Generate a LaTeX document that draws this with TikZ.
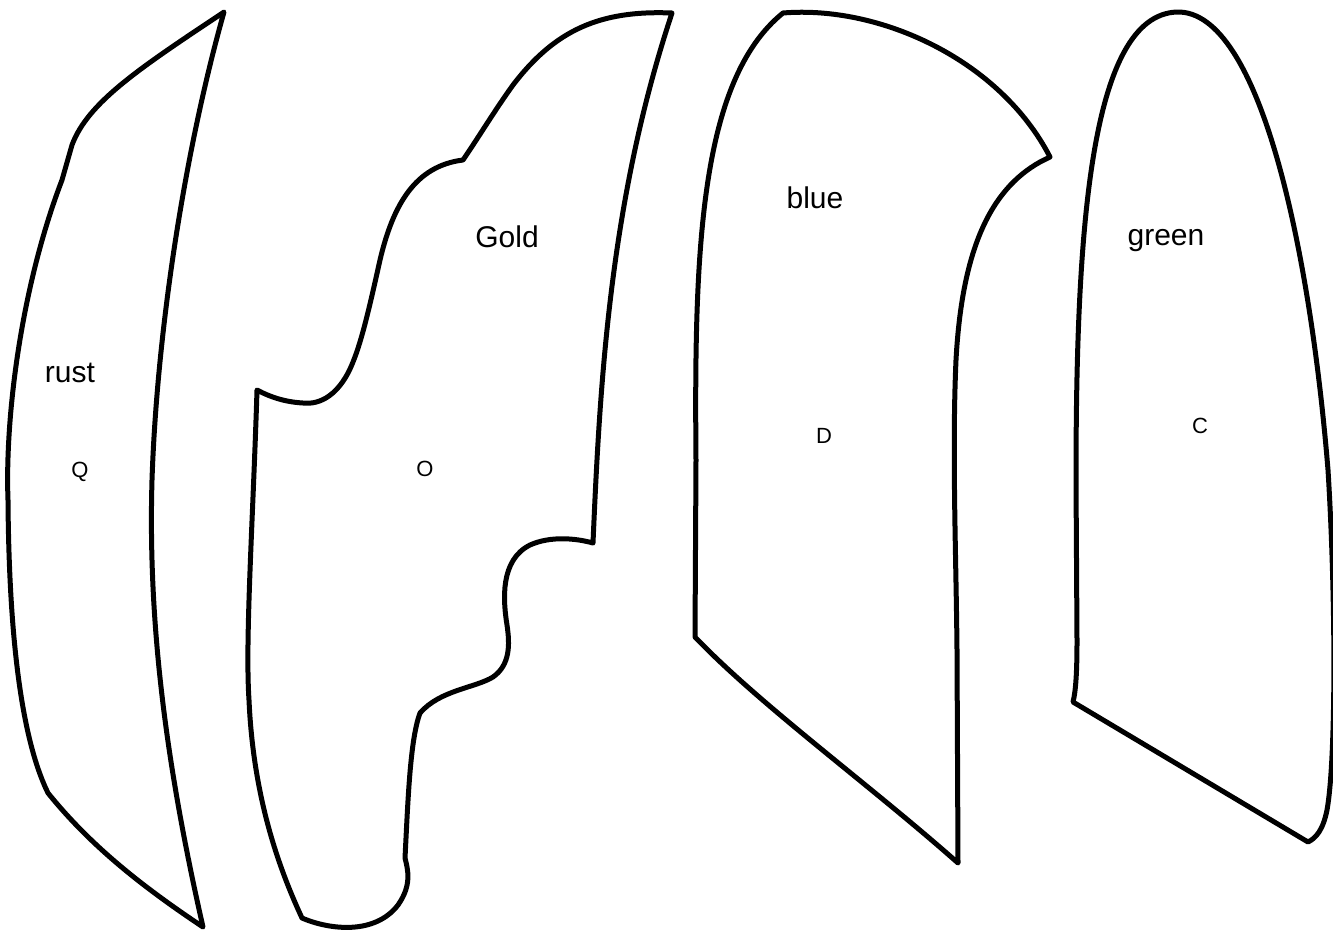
\documentclass[tikz,border=0pt]{standalone}
\usepackage{fontspec}
\setmainfont{Liberation Sans}
\begin{document}
\begin{tikzpicture}[x=1pt,y=-1pt,
  piece/.style={draw=black, line width=5pt, line join=round},
  big/.style={font=\fontsize{30}{36}\selectfont, anchor=base, inner sep=0pt},
  small/.style={font=\fontsize{22}{26}\selectfont, inner sep=0pt}]
\useasboundingbox (0,0) rectangle (1333,930);
\fill[white] (0,0) rectangle (1333,930);

% rust piece
\draw[piece] (224,12) .. controls (140,68) and (88,102) .. (72,145) -- (62,180)
  .. controls (20,290) and (5,420) .. (8,500)
  .. controls (9,640) and (22,740) .. (48,793)
  .. controls (90,845) and (140,885) .. (203,927)
  .. controls (165,760) and (148,620) .. (152,480)
  .. controls (157,330) and (185,150) .. (224,12) -- cycle;

% Gold piece
\draw[piece] (257,390) .. controls (253,520) and (245,640) .. (249,700)
  .. controls (253,790) and (275,860) .. (302,918)
  .. controls (330,930) and (375,935) .. (398,905)
  .. controls (412,885) and (408,870) .. (405,858)
  .. controls (408,800) and (410,740) .. (420,713)
  .. controls (440,690) and (475,688) .. (493,677)
  .. controls (510,665) and (510,645) .. (507,625)
  .. controls (503,600) and (500,560) .. (530,545)
  .. controls (550,536) and (575,538) .. (593,543)
  .. controls (600,380) and (610,200) .. (672,13)
  .. controls (600,10) and (555,30) .. (513,85)
  .. controls (495,110) and (480,135) .. (463,160)
  .. controls (415,166) and (393,205) .. (380,260)
  .. controls (370,305) and (362,340) .. (353,362)
  .. controls (340,395) and (320,405) .. (303,403)
  .. controls (285,402) and (270,397) .. (257,390) -- cycle;

% blue piece
\draw[piece] (783,13) .. controls (880,5) and (1000,60) .. (1050,157)
  -- (1040,162) .. controls (990,190) and (962,250) .. (956,360)
  .. controls (952,450) and (956,550) .. (957,650) -- (958,863)
  .. controls (870,785) and (760,705) .. (695,637)
  -- (696,460) .. controls (694,250) and (700,80) .. (783,13) -- cycle;

% green piece
\draw[piece] (1073,702) .. controls (1076,690) and (1077,670) .. (1077,640)
  -- (1076,480) .. controls (1076,230) and (1090,15) .. (1177,12)
  .. controls (1260,10) and (1310,250) .. (1328,470)
  .. controls (1336,600) and (1336,760) .. (1327,810)
  .. controls (1323,830) and (1316,838) .. (1308,842)
  -- (1073,702) -- cycle;

% labels
\node[big] (rust) at (70,382) {rust};
\node[small] (q) at (80,472) {Q};
\node[big] (gold) at (507,247) {Gold};
\node[small] (o) at (425,469) {O};
\node[big] (blue) at (815,208) {blue};
\node[small] (d) at (824,436) {D};
\node[big] (green) at (1166,245) {green};
\node[small] (c) at (1200,426) {C};
\end{tikzpicture}
\end{document}
